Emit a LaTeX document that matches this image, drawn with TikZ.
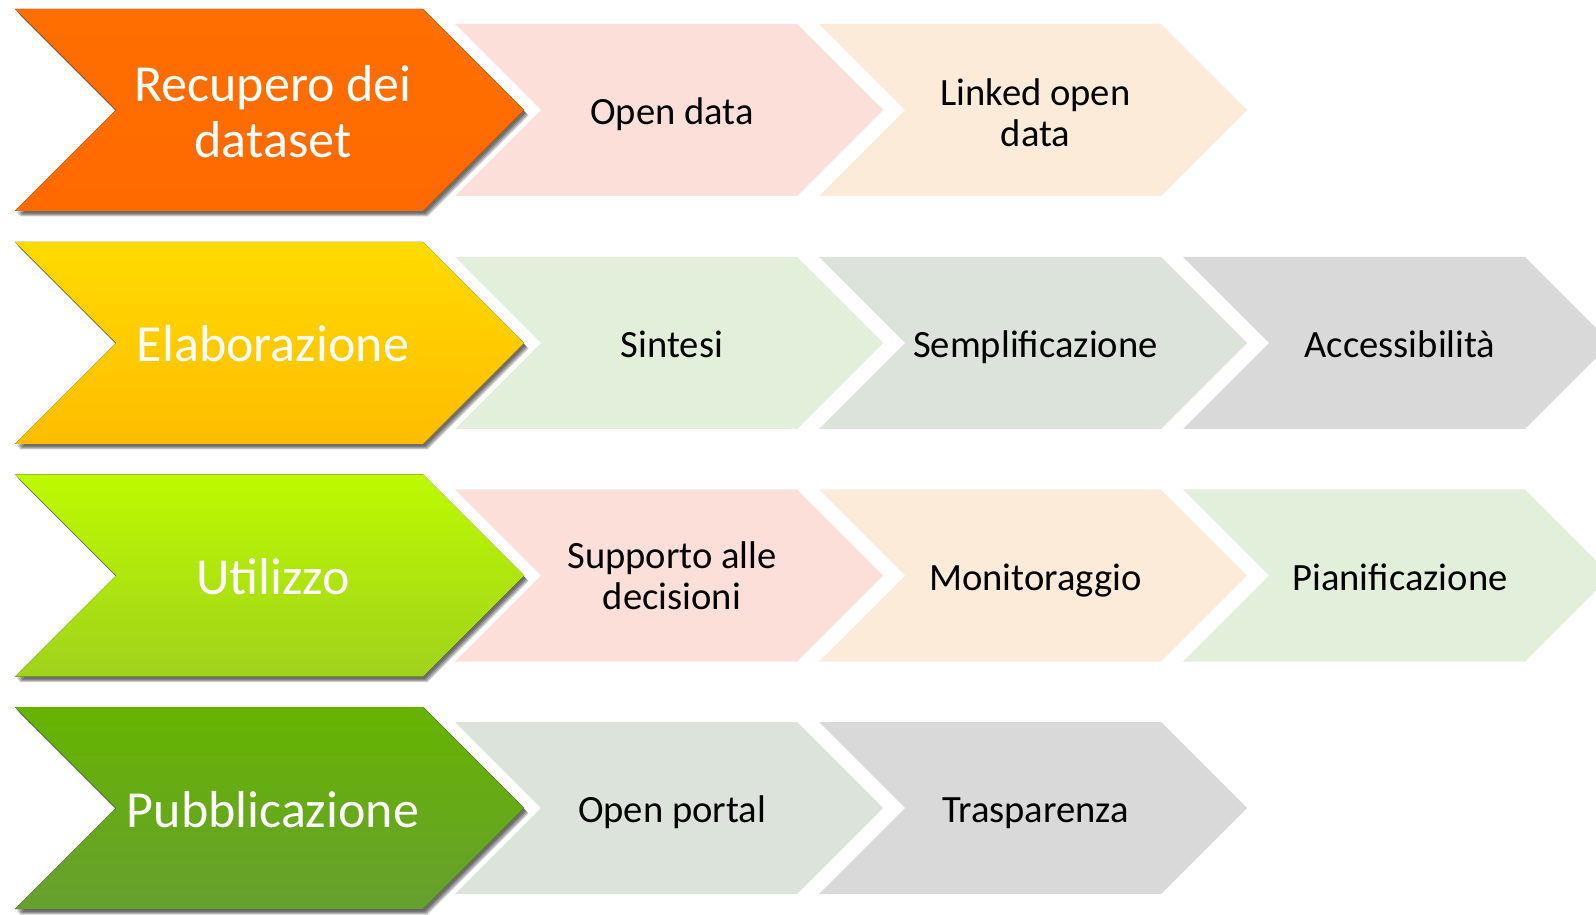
\documentclass[tikz,border=0pt]{standalone}
\usepackage{fontspec}
\setmainfont{Carlito}
\definecolor{orangeA}{HTML}{FF6E00}
\definecolor{orangeB}{HTML}{FF6A00}
\definecolor{yellowA}{HTML}{FFDB00}
\definecolor{yellowB}{HTML}{FFBC00}
\definecolor{limeA}{HTML}{BDFA00}
\definecolor{limeB}{HTML}{A0D21C}
\definecolor{greenA}{HTML}{66B400}
\definecolor{greenB}{HTML}{66A030}
\definecolor{cpink}{HTML}{FDDFDA}
\definecolor{cpeach}{HTML}{FDEBD9}
\definecolor{clgreen}{HTML}{E2EFDA}
\definecolor{cggreen}{HTML}{DBE3DA}
\definecolor{cgrey}{HTML}{D9D9D9}
\tikzset{
  bigtext/.style={text=white, font=\fontsize{52}{56}\selectfont, align=center, inner sep=0pt},
  smalltext/.style={text=black, font=\fontsize{38.6}{41}\selectfont, align=center, inner sep=0pt},
  bigline/.style={bigtext, anchor=base, yshift=-19pt},
  smallline/.style={smalltext, anchor=base, yshift=-14.7pt},
}
% chevron: left x, centre y, half height (= point depth), top width
\newcommand{\chevpath}[4]{(#1,#2+#3) -- ++(#4,0) -- ++(#3,-#3) -- ++(-#3,-#3) -- ++(-#4,0) -- ++(#3,#3) -- cycle}
\newcommand{\bigchev}[3]{%
  \foreach \s in {1,...,4}{\fill[black, opacity=0.19, shift={(0.5+\s,-1.5-\s)}] \chevpath{15}{#1}{101}{408};}
  \fill[top color=#2, bottom color=#3] \chevpath{15}{#1}{101}{408};
}
\newcommand{\smallchev}[3]{\fill[#3] \chevpath{#1}{#2}{86}{342};}
\begin{document}
\begin{tikzpicture}[x=1pt, y=1pt]
\useasboundingbox (0,0) rectangle (1596,914);
\clip (0,0) rectangle (1596,914);
\fill[white] (0,0) rectangle (1596,914);
% row 1
\bigchev{804}{orangeA}{orangeB}
\smallchev{455}{804}{cpink}
\smallchev{819}{804}{cpeach}
\node[bigtext] (recupero) at (273,802) {Recupero dei\\dataset};
\node[smallline] (opendata) at (672,804) {Open data};
\node[smalltext] (linked) at (1035.5,801.5) {Linked open\\data};
% row 2
\bigchev{571}{yellowA}{yellowB}
\smallchev{455}{571}{clgreen}
\smallchev{819}{571}{cggreen}
\smallchev{1183}{571}{cgrey}
\node[bigline] (elab) at (273,571) {Elaborazione};
\node[smallline] (sintesi) at (672,571) {Sintesi};
\node[smallline] (sempl) at (1035.5,571) {Semplificazione};
\node[smallline] (access) at (1400,571) {Accessibilità};
% row 3
\bigchev{338.5}{limeA}{limeB}
\smallchev{455}{338.5}{cpink}
\smallchev{819}{338.5}{cpeach}
\smallchev{1183}{338.5}{clgreen}
\node[bigline] (utilizzo) at (273,338.5) {Utilizzo};
\node[smalltext] (supporto) at (672,338) {Supporto alle\\decisioni};
\node[smallline] (monit) at (1035.5,338.5) {Monitoraggio};
\node[smallline] (pianif) at (1400,338.5) {Pianificazione};
% row 4
\bigchev{106}{greenA}{greenB}
\smallchev{455}{106}{cggreen}
\smallchev{819}{106}{cgrey}
\node[bigline] (pubbl) at (273,106) {Pubblicazione};
\node[smallline] (portal) at (672,106) {Open portal};
\node[smallline] (traspar) at (1035.5,106) {Trasparenza};
\end{tikzpicture}
\end{document}
